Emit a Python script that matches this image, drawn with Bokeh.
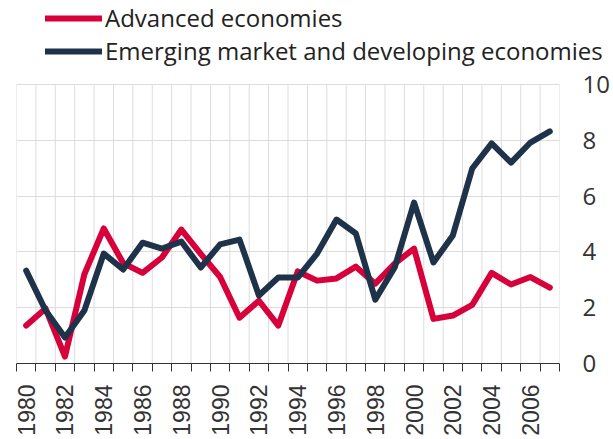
import math
from bokeh.plotting import figure
from bokeh.layouts import column, row
from bokeh.models import (FixedTicker, LinearAxis, Range1d, Legend, LegendItem,
                          ColumnDataSource, Spacer)
from bokeh.embed import file_html
from bokeh.resources import INLINE

years = list(range(1980, 2008))
advanced = [1.36, 1.97, 0.25, 3.2, 4.84, 3.6, 3.25, 3.8, 4.8, 3.93, 3.1, 1.64, 2.25, 1.36,
            3.3, 2.97, 3.05, 3.47, 2.86, 3.58, 4.12, 1.6, 1.72, 2.1, 3.25, 2.83, 3.1, 2.72]
emerging = [3.33, 1.9, 0.93, 1.9, 3.94, 3.37, 4.33, 4.12, 4.37, 3.44, 4.27, 4.44, 2.44, 3.08,
            3.08, 3.94, 5.16, 4.66, 2.29, 3.44, 5.77, 3.62, 4.59, 6.99, 7.89, 7.2, 7.92, 8.32]
label_years = list(range(1980, 2007, 2))
y_ticks = [0, 2, 4, 6, 8, 10]
series_names = ["Advanced economies", "Emerging market and developing economies"]

RED = "#d7003a"
NAVY = "#1e3249"
GRID = "#dcdcdc"
TEXT = "#333333"

src = ColumnDataSource(dict(x=years, a=advanced, e=emerging))

# ---------------- main chart ----------------
PLOT_H = 279          # pixels for the 0-10 band
HEADROOM = 17         # room above 10 for the top tick label
FRAME_H = PLOT_H + HEADROOM
Y_TOP_VALUE = 10 * FRAME_H / PLOT_H

p = figure(frame_width=543, frame_height=FRAME_H, output_backend="svg", toolbar_location=None,
           x_range=Range1d(years[0] - 0.5, years[-1] + 0.5), y_range=Range1d(0, Y_TOP_VALUE),
           x_axis_location=None, y_axis_location=None,
           min_border_left=4, min_border_right=0, min_border_top=0, min_border_bottom=0)
p.outline_line_color = None
p.background_fill_color = "white"
p.border_fill_color = "white"
p.xgrid.visible = False

boundaries = [y - 0.5 for y in years] + [years[-1] + 0.5]

# vertical grid lines, limited to the 0-10 band
p.segment(x0=boundaries, y0=[y_ticks[0]] * len(boundaries), x1=boundaries,
          y1=[y_ticks[-1]] * len(boundaries), line_color=GRID, line_width=1)
p.ygrid.ticker = FixedTicker(ticks=y_ticks)
p.ygrid.grid_line_color = GRID
p.ygrid.grid_line_width = 1

p.line("x", "a", source=src, line_color=RED, line_width=6, line_join="round", line_cap="round")
p.line("x", "e", source=src, line_color=NAVY, line_width=6, line_join="round", line_cap="round")

xaxis = LinearAxis(ticker=FixedTicker(ticks=label_years, minor_ticks=boundaries))
xaxis.major_tick_out = 0
xaxis.major_tick_in = 0
xaxis.minor_tick_out = 8
xaxis.minor_tick_in = 0
xaxis.minor_tick_line_color = TEXT
xaxis.axis_line_color = TEXT
xaxis.major_label_orientation = math.pi / 2
xaxis.major_label_standoff = 13
xaxis.major_label_text_font = "Liberation Sans"
xaxis.major_label_text_font_size = "23px"
xaxis.major_label_text_color = TEXT
p.add_layout(xaxis, "below")

yaxis = LinearAxis(ticker=FixedTicker(ticks=y_ticks))
yaxis.axis_line_color = None
yaxis.major_tick_line_color = None
yaxis.major_tick_out = 0
yaxis.major_tick_in = 0
yaxis.minor_tick_line_color = None
yaxis.major_label_standoff = 23
yaxis.major_label_text_font = "Open Sans"
yaxis.major_label_text_font_size = "24px"
yaxis.major_label_text_color = TEXT
p.add_layout(yaxis, "right")

# ---------------- legend strip ----------------
lf = figure(width=613, height=67, output_backend="svg", toolbar_location=None,
            x_axis_location=None, y_axis_location=None,
            x_range=Range1d(0, 1), y_range=Range1d(0, 1),
            min_border_left=0, min_border_right=0, min_border_top=0, min_border_bottom=0)
lf.outline_line_color = None
lf.xgrid.visible = False
lf.ygrid.visible = False
lf.background_fill_color = "white"
lf.border_fill_color = "white"
# keys for the legend (their data lies outside this strip's ranges, only the legend shows)
k1 = lf.line("x", "a", source=src, line_color=RED, line_width=6, line_cap="round")
k2 = lf.line("x", "e", source=src, line_color=NAVY, line_width=6, line_cap="round")

legend = Legend(items=[LegendItem(label=series_names[0], renderers=[k1]),
                       LegendItem(label=series_names[1], renderers=[k2])],
                location=(45, 0), orientation="vertical")
legend.background_fill_alpha = 0
legend.border_line_color = None
legend.padding = 0
legend.margin = 0
legend.spacing = 0
legend.glyph_width = 57
legend.glyph_height = 30
legend.label_height = 30
legend.label_standoff = 3
legend.label_text_font = "Open Sans"
legend.label_text_font_size = "24px"
legend.label_text_color = "#222222"
lf.add_layout(legend, "center")

layout = column(lf, row(Spacer(width=12, height=10), p))
open("out.html", "w").write(file_html(layout, INLINE))
